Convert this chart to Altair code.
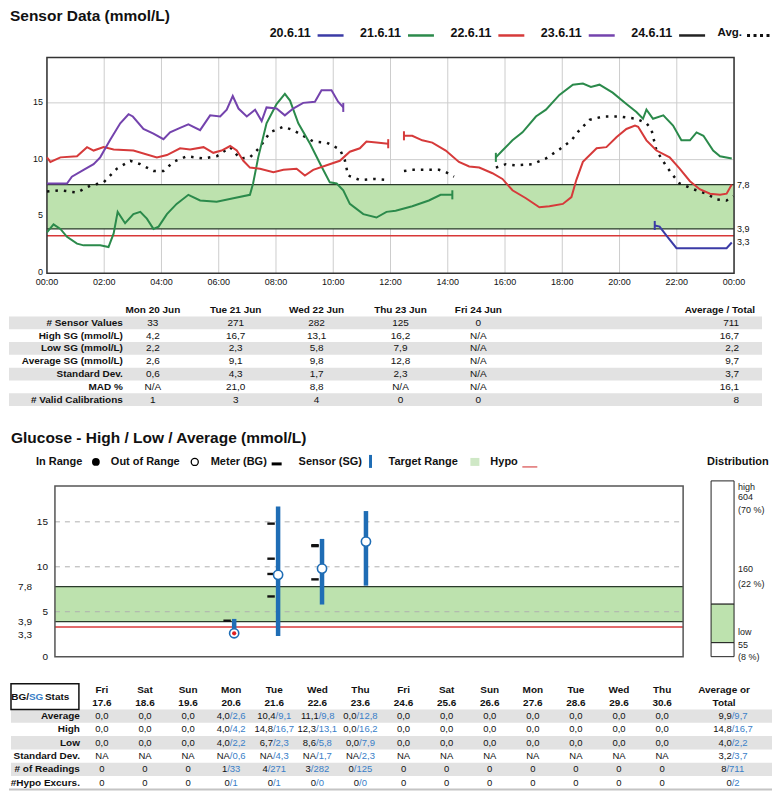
import altair as alt
import pandas as pd

SANS = "Liberation Sans, Arial, sans-serif"
W = 765

GREEN = "#bde2ae"
GRAY_BAND = "#e2e2e2"
BAR_BLUE = "#1f6db5"
SG_BLUE = "#3a80c8"
HYPO_RED = "#d83838"

# ---------------- data: sensor traces (hour of day, mmol/L) ----------------
series_names = ["20.6.11", "21.6.11", "22.6.11", "23.6.11", "24.6.11"]
series_colors = ["#3b3ba6", "#2b8a4b", "#d63a3a", "#7443ad", "#222222"]

mon_t = [21.23, 21.4, 21.64, 21.99, 23.74, 23.92]
mon_v = [4.2, 4.1, 3.3, 2.2, 2.2, 2.7]

tue1_t = [0.0, 0.23, 0.47, 0.7, 1.05, 1.28, 1.86, 2.15, 2.33, 2.47, 2.73, 3.02, 3.26, 3.49, 3.72,
          3.9, 4.19, 4.53, 4.94, 5.35, 5.93, 6.51, 7.09, 7.2, 7.38, 7.67, 8.02, 8.31, 8.49, 8.78,
          9.19, 9.59, 9.88, 10.12, 10.35, 10.58, 11.05, 11.51, 11.86, 12.18, 12.76, 13.34, 13.75, 14.16]
tue1_v = [3.6, 4.3, 3.9, 3.2, 2.6, 2.45, 2.45, 2.3, 3.5, 5.4, 4.4, 5.2, 5.4, 4.8, 3.9,
          4.1, 5.2, 6.1, 6.9, 6.4, 6.3, 6.6, 6.9, 7.9, 10.2, 13.2, 14.9, 15.8, 15.2, 13.2,
          11.4, 9.4, 8.0, 7.9, 7.3, 6.1, 5.2, 4.9, 5.4, 5.5, 5.9, 6.4, 6.9, 6.9]
tue2_t = [15.68, 15.91, 16.26, 16.61, 17.08, 17.43, 17.9, 18.37, 18.72, 19.0, 19.3, 19.76, 20.24,
          20.59, 20.82, 20.94, 21.17, 21.53, 21.87, 22.16, 22.46, 22.69, 22.93, 23.27, 23.51, 23.92]
tue2_v = [10.2, 10.8, 11.7, 12.4, 13.8, 14.4, 15.7, 16.6, 16.7, 16.4, 16.6, 15.9, 14.9,
          14.2, 13.6, 14.4, 13.6, 13.9, 13.0, 11.7, 11.7, 12.4, 12.1, 10.8, 10.3, 10.1]

wed1_t = [0.0, 0.12, 0.47, 1.05, 1.4, 1.63, 1.98, 2.33, 3.02, 3.84, 4.19, 4.65, 5.0, 5.47, 5.81,
          6.1, 6.4, 6.63, 6.86, 7.09, 7.44, 7.91, 8.26, 8.72, 9.01, 9.3, 9.77, 10.23, 10.58, 10.93,
          11.16, 11.51, 11.92]
wed1_v = [10.2, 9.8, 10.2, 10.3, 11.1, 10.8, 11.1, 10.9, 10.8, 10.2, 10.4, 11.0, 10.9, 11.1, 10.6,
          10.8, 11.2, 10.8, 9.9, 9.3, 9.2, 8.9, 9.1, 9.2, 8.6, 9.1, 9.5, 9.9, 10.7, 11.0,
          11.6, 11.5, 11.4]
wed2_t = [12.47, 12.76, 13.11, 13.46, 13.93, 14.39, 14.75, 15.1, 15.56, 15.91, 16.26, 16.73, 17.2,
          17.55, 18.02, 18.32, 18.49, 18.72, 19.2, 19.54, 19.9, 20.24, 20.54, 20.65, 20.94, 21.29,
          21.75, 22.1, 22.46, 22.8, 23.16, 23.51, 23.74, 23.92]
wed2_v = [12.1, 12.1, 11.7, 11.5, 10.8, 9.8, 9.4, 9.3, 8.8, 8.3, 7.3, 6.6, 5.8,
          5.9, 6.1, 6.7, 8.2, 9.8, 11.0, 11.1, 12.0, 12.7, 13.0, 12.9, 11.7, 10.8,
          10.2, 9.2, 8.1, 7.4, 7.0, 6.9, 7.0, 7.8]

thu_t = [0.0, 0.7, 0.87, 1.28, 1.63, 1.86, 2.2, 2.56, 2.85, 3.0, 3.37, 3.72, 4.07, 4.3, 4.65, 4.94,
         5.35, 5.7, 6.05, 6.28, 6.49, 6.69, 6.98, 7.27, 7.5, 7.67, 8.02, 8.31, 8.6, 8.95, 9.36,
         9.59, 9.94, 10.17, 10.35]
thu_v = [7.9, 7.9, 8.5, 9.1, 9.6, 10.2, 11.7, 13.2, 14.0, 13.8, 12.7, 12.3, 11.8, 12.4, 12.8, 13.1,
         12.6, 13.9, 13.8, 14.4, 15.6, 14.5, 13.8, 14.4, 13.4, 14.6, 14.5, 13.9, 14.5, 15.0, 15.1,
         16.1, 16.1, 15.1, 14.6]

avg1_t = [0.0, 0.47, 1.05, 1.51, 1.98, 2.44, 2.91, 3.26, 3.72, 4.07, 4.42, 4.88, 5.47, 5.93, 6.4,
          6.74, 7.09, 7.44, 7.79, 8.26, 8.6, 8.95, 9.3, 9.77, 10.23, 10.4, 10.52, 10.93, 11.4, 11.92]
avg1_v = [7.2, 7.3, 7.1, 7.7, 8.0, 9.2, 9.9, 9.6, 9.0, 9.0, 9.8, 10.3, 10.1, 10.3, 11.1,
          10.1, 10.2, 11.1, 12.4, 12.9, 12.6, 12.1, 11.6, 11.5, 10.9, 10.0, 8.6, 8.2, 8.3, 8.2]
avg2_t = [12.47, 12.76, 13.34, 13.7, 13.93, 14.22]
avg2_v = [9.0, 9.1, 9.1, 9.1, 8.9, 8.5]
avg3_t = [15.68, 16.03, 16.38, 16.96, 17.43, 17.9, 18.32, 18.6, 18.95, 19.42, 20.0, 20.59, 20.94,
          21.11, 21.29, 21.64, 21.87, 22.1, 22.57, 23.04, 23.39, 23.74, 23.97]
avg3_v = [9.3, 9.6, 9.5, 9.6, 10.1, 10.9, 11.7, 12.6, 13.5, 13.8, 13.8, 13.6, 13.2,
          12.7, 10.8, 9.4, 8.6, 7.9, 7.4, 7.0, 6.5, 6.4, 6.8]

TARGET_LOW, TARGET_HIGH, HYPO = 3.9, 7.8, 3.3
Y_MAX = 19

# ---------------- data: table 1 ----------------
t1_stats = ["# Sensor Values", "High SG (mmol/L)", "Low SG (mmol/L)", "Average SG (mmol/L)",
            "Standard Dev.", "MAD %", "# Valid Calibrations"]
t1_days = ["Mon 20 Jun", "Tue 21 Jun", "Wed 22 Jun", "Thu 23 Jun", "Fri 24 Jun"]
t1_mon = ["33", "4,2", "2,2", "2,6", "0,6", "N/A", "1"]
t1_tue = ["271", "16,7", "2,3", "9,1", "4,3", "21,0", "3"]
t1_wed = ["282", "13,1", "5,8", "9,8", "1,7", "8,8", "4"]
t1_thu = ["125", "16,2", "7,9", "12,8", "2,3", "N/A", "0"]
t1_fri = ["0", "N/A", "N/A", "N/A", "N/A", "N/A", "0"]
t1_avg = ["711", "16,7", "2,2", "9,7", "3,7", "16,1", "8"]

# ---------------- data: glucose chart ----------------
sg_day = [3, 4, 5, 6]            # index of day counted from Fri 17.6
sg_low = [2.2, 2.3, 5.8, 7.9]
sg_high = [4.2, 16.7, 13.1, 16.2]
sg_avg = [2.6, 9.1, 9.8, 12.8]
bg_day = [3, 4, 4, 4, 4, 5, 5, 5]
bg_val = [4.0, 14.8, 10.9, 9.2, 6.7, 12.3, 12.4, 8.6]

dist_names = ["low", "target", "high"]
dist_pct = [8, 22, 70]
dist_count = [55, 160, 604]

# ---------------- data: table 2 ----------------
t2_dayname = ["Fri", "Sat", "Sun", "Mon", "Tue", "Wed", "Thu", "Fri", "Sat", "Sun", "Mon", "Tue", "Wed", "Thu"]
t2_date = ["17.6", "18.6", "19.6", "20.6", "21.6", "22.6", "23.6", "24.6", "25.6", "26.6", "27.6", "28.6", "29.6", "30.6"]
t2_stats = ["Average", "High", "Low", "Standard Dev.", "# of Readings", "#Hypo Excurs."]
avg_bg = ["0,0", "0,0", "0,0", "4,0", "10,4", "11,1", "0,0", "0,0", "0,0", "0,0", "0,0", "0,0", "0,0", "0,0"]
avg_sg = [None, None, None, "2,6", "9,1", "9,8", "12,8", None, None, None, None, None, None, None]
high_bg = ["0,0", "0,0", "0,0", "4,0", "14,8", "12,3", "0,0", "0,0", "0,0", "0,0", "0,0", "0,0", "0,0", "0,0"]
high_sg = [None, None, None, "4,2", "16,7", "13,1", "16,2", None, None, None, None, None, None, None]
low_bg = ["0,0", "0,0", "0,0", "4,0", "6,7", "8,6", "0,0", "0,0", "0,0", "0,0", "0,0", "0,0", "0,0", "0,0"]
low_sg = [None, None, None, "2,2", "2,3", "5,8", "7,9", None, None, None, None, None, None, None]
sd_bg = ["NA", "NA", "NA", "NA", "NA", "NA", "NA", "NA", "NA", "NA", "NA", "NA", "NA", "NA"]
sd_sg = [None, None, None, "0,6", "4,3", "1,7", "2,3", None, None, None, None, None, None, None]
n_bg = ["0", "0", "0", "1", "4", "3", "0", "0", "0", "0", "0", "0", "0", "0"]
n_sg = [None, None, None, "33", "271", "282", "125", None, None, None, None, None, None, None]
hy_bg = ["0", "0", "0", "0", "0", "0", "0", "0", "0", "0", "0", "0", "0", "0"]
hy_sg = [None, None, None, "1", "1", "0", "0", None, None, None, None, None, None, None]
tot_bg = ["9,9", "14,8", "4,0", "3,2", "8", "0"]
tot_sg = ["9,7", "16,7", "2,2", "3,7", "711", "2"]

# =====================================================================
one = pd.DataFrame({"k": [0]})


def vtext(text, x, y, size=11, weight="bold", align="left", color="#111"):
    return alt.Chart(one).mark_text(text=text, font=SANS, fontSize=size, fontWeight=weight,
                                    align=align, baseline="middle", color=color).encode(
        x=alt.value(x), y=alt.value(y))


# ---------------- P0 : title + legend ----------------
leg_r = [302 + 90.5 * i for i in range(len(series_names))]
leg_df = pd.DataFrame({"label": series_names, "col": series_colors, "xr": leg_r,
                       "x0": [r + 7 for r in leg_r], "x1": [r + 33 for r in leg_r]})
p0 = alt.layer(
    vtext("Sensor Data (mmol/L)", 1, 8, size=15.5),
    alt.Chart(leg_df).mark_text(font=SANS, fontSize=12.5, fontWeight="bold", align="right",
                                baseline="middle", color="#111").encode(
        x=alt.X("xr:Q", scale=None), y=alt.value(25), text="label:N"),
    alt.Chart(leg_df).mark_rule(strokeWidth=2.5).encode(
        x=alt.X("x0:Q", scale=None), x2="x1:Q", y=alt.value(27),
        color=alt.Color("col:N", scale=None)),
    vtext("Avg.", 734, 25, size=11.5, align="right"),
    alt.Chart(one).mark_rule(strokeWidth=3, strokeDash=[3, 3.5], color="#111").encode(
        x=alt.value(739), x2=alt.value(763), y=alt.value(27)),
).properties(width=W, height=49)

# ---------------- P1 : sensor chart ----------------
segments = [
    ("20.6.11", "mon", mon_t, mon_v),
    ("21.6.11", "tue1", tue1_t, tue1_v),
    ("21.6.11", "tue2", tue2_t, tue2_v),
    ("22.6.11", "wed1", wed1_t, wed1_v),
    ("22.6.11", "wed2", wed2_t, wed2_v),
    ("23.6.11", "thu", thu_t, thu_v),
]
rows = []
caps = []
for name, seg, ts, vs in segments:
    for i, (t, v) in enumerate(zip(ts, vs)):
        rows.append({"series": name, "seg": seg, "t": t, "v": v, "i": i})
    for t, v in ((ts[0], vs[0]), (ts[-1], vs[-1])):
        if 0 < t < 23.9:
            caps.append({"series": name, "t": t, "v0": v - 0.4, "v1": v + 0.4})
lines_df = pd.DataFrame(rows)
caps_df = pd.DataFrame(caps)
arows = []
for seg, ts, vs in (("a1", avg1_t, avg1_v), ("a2", avg2_t, avg2_v), ("a3", avg3_t, avg3_v)):
    for i, (t, v) in enumerate(zip(ts, vs)):
        arows.append({"seg": seg, "t": t, "v": v, "i": i})
avgline_df = pd.DataFrame(arows)

xs1 = alt.Scale(domain=[0, 24], range=[38, 726], nice=False, zero=False)
ys1 = alt.Scale(domain=[0, Y_MAX], nice=False, zero=False)
col_scale = alt.Scale(domain=series_names, range=series_colors)


def X1(f):
    return alt.X(f, scale=xs1, axis=None, title=None)


def Y1(f):
    return alt.Y(f, scale=ys1, axis=None, title=None)


def XD1(d):
    return alt.XDatum(d, scale=xs1, axis=None)


def YD1(d):
    return alt.YDatum(d, scale=ys1, axis=None)


hours = list(range(0, 25, 2))
xgrid_df = pd.DataFrame({"t": hours, "lab": [f"{h % 24:02d}:00" for h in hours]})
ygrid_df = pd.DataFrame({"v": [5, 10, 15]})
ylab_df = pd.DataFrame({"v": [0, 5, 10, 15], "lab": ["0", "5", "10", "15"]})
tgt_lab_df = pd.DataFrame({"v": [TARGET_HIGH, TARGET_LOW]})
tgt_lab_df["lab"] = [f"{v:.1f}".replace(".", ",") for v in tgt_lab_df["v"]]
hypo_lab_df = pd.DataFrame({"v": [HYPO], "lab": [f"{HYPO:.1f}".replace(".", ",")]})
border_df = pd.DataFrame({"v": [TARGET_LOW, TARGET_HIGH]})
hypo_df = pd.DataFrame({"v": [HYPO]})

p1 = alt.layer(
    alt.Chart(xgrid_df).mark_rule(color="#cdcdcd", strokeWidth=1).encode(
        x=X1("t:Q"), y=YD1(0), y2=alt.Y2Datum(Y_MAX)),
    alt.Chart(ygrid_df).mark_rule(color="#cdcdcd", strokeWidth=1).encode(
        y=Y1("v:Q"), x=XD1(0), x2=alt.X2Datum(24)),
    alt.Chart(one).mark_rect(color=GREEN).encode(
        x=XD1(0), x2=alt.X2Datum(24), y=YD1(TARGET_LOW), y2=alt.Y2Datum(TARGET_HIGH)),
    alt.Chart(border_df).mark_rule(color="#2a3a2a", strokeWidth=1.2).encode(
        y=Y1("v:Q"), x=XD1(0), x2=alt.X2Datum(24)),
    alt.Chart(hypo_df).mark_rule(color=HYPO_RED, strokeWidth=1.5).encode(
        y=Y1("v:Q"), x=XD1(0), x2=alt.X2Datum(24)),
    alt.Chart(one).mark_rect(fill="white", fillOpacity=0, stroke="#333", strokeWidth=1.5).encode(
        x=XD1(0), x2=alt.X2Datum(24), y=YD1(0), y2=alt.Y2Datum(Y_MAX)),
    alt.Chart(avgline_df).mark_line(strokeWidth=2.5, strokeDash=[2.5, 6], color="#111").encode(
        x=X1("t:Q"), y=Y1("v:Q"), detail="seg:N", order="i:Q"),
    alt.Chart(lines_df).mark_line(strokeWidth=2).encode(
        x=X1("t:Q"), y=Y1("v:Q"),
        color=alt.Color("series:N", scale=col_scale, legend=None),
        detail="seg:N", order="i:Q"),
    alt.Chart(caps_df).mark_rule(strokeWidth=2).encode(
        x=X1("t:Q"), y=Y1("v0:Q"), y2="v1:Q",
        color=alt.Color("series:N", scale=col_scale, legend=None)),
    alt.Chart(ylab_df).mark_text(font=SANS, fontSize=9, align="right", baseline="middle",
                                 dx=-4, dy=-1, color="#111").encode(
        x=XD1(0), y=Y1("v:Q"), text="lab:N"),
    alt.Chart(tgt_lab_df).mark_text(font=SANS, fontSize=9, align="left", baseline="middle",
                                    dx=3, color="#111").encode(
        x=XD1(24), y=Y1("v:Q"), text="lab:N"),
    alt.Chart(hypo_lab_df).mark_text(font=SANS, fontSize=9, align="left", baseline="middle",
                                     dx=3, dy=6, color="#111").encode(
        x=XD1(24), y=Y1("v:Q"), text="lab:N"),
    alt.Chart(xgrid_df).mark_text(font=SANS, fontSize=9, align="center", baseline="middle",
                                  dy=9, color="#111").encode(
        x=X1("t:Q"), y=YD1(0), text="lab:N"),
).properties(width=W, height=216)

# ---------------- P2 : table 1 ----------------
row_keys1 = ["hdr"] + t1_stats
ys2 = alt.Scale(type="band", domain=row_keys1, range=[30.6, 133.0], paddingInner=0, paddingOuter=0)
xs2 = alt.Scale(domain=[0, W], range=[0, W], nice=False, zero=False)
T1_LABEL_X = 114
T1_DAY_X = [144, 227, 308, 392, 470]
T1_AVG_X = 731
T1_AVG_HDR_X = 747


def tchart(df, ys, weight="normal", align="center", size=10, color="#111"):
    return alt.Chart(df).mark_text(font=SANS, fontSize=size, fontWeight=weight, align=align,
                                   baseline="middle", color=color).encode(
        x=alt.X("x:Q", scale=xs2, axis=None),
        y=alt.Y("row:N", scale=ys, axis=None),
        text="text:N")


t1_cols = [t1_mon, t1_tue, t1_wed, t1_thu, t1_fri]
t1_val_rows = []
for j, colvals in enumerate(t1_cols):
    for s, val in zip(t1_stats, colvals):
        t1_val_rows.append({"row": s, "x": T1_DAY_X[j], "text": val})
t1_val_df = pd.DataFrame(t1_val_rows)
t1_hdr_df = pd.DataFrame({"row": ["hdr"] * len(t1_days), "x": T1_DAY_X, "text": t1_days})
t1_lab_df = pd.DataFrame({"row": t1_stats, "x": [T1_LABEL_X] * len(t1_stats), "text": t1_stats})
t1_avg_df = pd.DataFrame({"row": t1_stats, "x": [T1_AVG_X] * len(t1_stats), "text": t1_avg})
t1_avgh_df = pd.DataFrame({"row": ["hdr"], "x": [T1_AVG_HDR_X], "text": ["Average / Total"]})
t1_band_df = pd.DataFrame({"row": t1_stats[0::2]})

p2 = alt.layer(
    alt.Chart(t1_band_df).mark_rect(color=GRAY_BAND).encode(
        y=alt.Y("row:N", scale=ys2, axis=None), x=alt.value(0), x2=alt.value(754)),
    tchart(t1_lab_df, ys2, weight="bold", align="right"),
    tchart(t1_hdr_df, ys2, weight="bold"),
    tchart(t1_val_df, ys2),
    tchart(t1_avg_df, ys2, align="right"),
    tchart(t1_avgh_df, ys2, weight="bold", align="right"),
).properties(width=W, height=140)

# ---------------- P3 : glucose chart + distribution ----------------
X3_MIN, X3_MAX = -1.08, 13.22
xs3 = alt.Scale(domain=[X3_MIN, X3_MAX], range=[46, 675], nice=False, zero=False)
ys3 = alt.Scale(domain=[0, Y_MAX], range=[244, 73], nice=False, zero=False)


def X3(f):
    return alt.X(f, scale=xs3, axis=None, title=None)


def Y3(f):
    return alt.Y(f, scale=ys3, axis=None, title=None)


def XD3(d):
    return alt.XDatum(d, scale=xs3, axis=None)


def YD3(d):
    return alt.YDatum(d, scale=ys3, axis=None)


sg_df = pd.DataFrame({"day": sg_day, "lo": sg_low, "hi": sg_high, "avg": sg_avg})
hypo_pts = sg_df[sg_df["avg"] < HYPO]
bg_df = pd.DataFrame({"day": bg_day, "v": bg_val})
bg_df["xp"] = bg_df["day"] - 0.16

legend_items = [
    vtext("Glucose - High / Low / Average  (mmol/L)", 2, 25, size=15.5),
    vtext("In Range", 27, 49),
    alt.Chart(one).mark_point(shape="circle", filled=True, color="#000", size=60, opacity=1).encode(
        x=alt.value(87), y=alt.value(49)),
    vtext("Out of Range", 102, 49),
    alt.Chart(one).mark_point(shape="circle", filled=False, color="#000", size=50, strokeWidth=1.3,
                              opacity=1).encode(x=alt.value(186), y=alt.value(49)),
    vtext("Meter (BG)", 202, 49),
    alt.Chart(one).mark_rule(color="#000", strokeWidth=3).encode(
        x=alt.value(263), x2=alt.value(273), y=alt.value(51)),
    vtext("Sensor (SG)", 290, 49),
    alt.Chart(one).mark_rule(color=BAR_BLUE, strokeWidth=3).encode(
        x=alt.value(362), y=alt.value(42), y2=alt.value(55)),
    vtext("Target Range", 380, 49),
    alt.Chart(one).mark_rect(color="#cfe8c6").encode(
        x=alt.value(462), x2=alt.value(471), y=alt.value(45), y2=alt.value(53)),
    vtext("Hypo", 482, 49),
    alt.Chart(one).mark_rule(color="#e07070", strokeWidth=1.5).encode(
        x=alt.value(514), x2=alt.value(529), y=alt.value(54)),
    vtext("Distribution", 699, 49),
]

main3 = alt.layer(
    alt.Chart(one).mark_rect(color=GREEN).encode(
        x=XD3(X3_MIN), x2=alt.X2Datum(X3_MAX), y=YD3(TARGET_LOW), y2=alt.Y2Datum(TARGET_HIGH)),
    alt.Chart(ygrid_df).mark_rule(color="#b0b0b0", strokeWidth=1, strokeDash=[5, 5]).encode(
        y=Y3("v:Q"), x=XD3(X3_MIN), x2=alt.X2Datum(X3_MAX)),
    alt.Chart(border_df).mark_rule(color="#2a3a2a", strokeWidth=1.2).encode(
        y=Y3("v:Q"), x=XD3(X3_MIN), x2=alt.X2Datum(X3_MAX)),
    alt.Chart(hypo_df).mark_rule(color=HYPO_RED, strokeWidth=1.5).encode(
        y=Y3("v:Q"), x=XD3(X3_MIN), x2=alt.X2Datum(X3_MAX)),
    alt.Chart(one).mark_rect(fill="white", fillOpacity=0, stroke="#555", strokeWidth=1.5).encode(
        x=XD3(X3_MIN), x2=alt.X2Datum(X3_MAX), y=YD3(0), y2=alt.Y2Datum(Y_MAX)),
    alt.Chart(sg_df).mark_rule(color=BAR_BLUE, strokeWidth=4.5).encode(
        x=X3("day:Q"), y=Y3("lo:Q"), y2="hi:Q"),
    alt.Chart(bg_df).mark_point(shape="M-1,-0.32L1,-0.32L1,0.32L-1,0.32Z", filled=True,
                                color="#111", size=56, opacity=1).encode(
        x=X3("xp:Q"), y=Y3("v:Q")),
    alt.Chart(sg_df).mark_point(shape="circle", filled=True, fill="white", stroke=BAR_BLUE,
                                strokeWidth=1.6, size=85, opacity=1).encode(
        x=X3("day:Q"), y=Y3("avg:Q")),
    alt.Chart(hypo_pts).mark_point(shape="circle", filled=True, color="#e02020", size=18,
                                   opacity=1).encode(
        x=X3("day:Q"), y=Y3("avg:Q")),
    alt.Chart(ylab_df).mark_text(font=SANS, fontSize=10, align="right", baseline="middle",
                                 dx=-7, color="#111").encode(
        x=XD3(X3_MIN), y=Y3("v:Q"), text="lab:N"),
    alt.Chart(tgt_lab_df).mark_text(font=SANS, fontSize=10, align="right", baseline="middle",
                                    dx=-23, color="#111").encode(
        x=XD3(X3_MIN), y=Y3("v:Q"), text="lab:N"),
    alt.Chart(hypo_lab_df).mark_text(font=SANS, fontSize=10, align="right", baseline="middle",
                                     dx=-23, dy=8, color="#111").encode(
        x=XD3(X3_MIN), y=Y3("v:Q"), text="lab:N"),
    *legend_items,
)

xsd = alt.Scale(domain=[0, 1], range=[703, 726], nice=False, zero=False)
ysd = alt.Scale(domain=[0, 100], range=[244, 68], nice=False, zero=False)
cum = [0]
for p in dist_pct:
    cum.append(cum[-1] + p)
dist_df = pd.DataFrame({"name": dist_names, "y0": cum[:-1], "y1": cum[1:],
                        "fill": ["white" if n != "target" else GREEN for n in dist_names]})
dist_lab_df = pd.DataFrame({
    "text": ["high", str(dist_count[2]), f"({dist_pct[2]} %)",
             str(dist_count[1]), f"({dist_pct[1]} %)",
             "low", str(dist_count[0]), f"({dist_pct[0]} %)"],
    "pos": [96.5, 91.0, 83.5, 50.0, 41.5, 14.0, 6.8, 0.0],
})
dist3 = alt.layer(
    alt.Chart(dist_df).mark_rect(stroke="#222", strokeWidth=1).encode(
        x=alt.XDatum(0, scale=xsd, axis=None), x2=alt.X2Datum(1),
        y=alt.Y("y0:Q", scale=ysd, axis=None), y2="y1:Q",
        fill=alt.Fill("fill:N", scale=None)),
    alt.Chart(dist_lab_df).mark_text(font=SANS, fontSize=9, align="left", baseline="middle",
                                     dx=4, color="#222").encode(
        x=alt.XDatum(1, scale=xsd, axis=None),
        y=alt.Y("pos:Q", scale=ysd, axis=None), text="text:N"),
)

p3 = alt.layer(main3, dist3).resolve_scale(x="independent", y="independent").properties(
    width=W, height=244)

# ---------------- P4 : table 2 ----------------
row_keys2 = ["day", "date"] + t2_stats
ys4 = alt.Scale(type="band", domain=row_keys2, range=[26.4, 132.7], paddingInner=0, paddingOuter=0)
T2_LABEL_X = 71
T2_COL_X = [93 + 43.15 * i for i in range(len(t2_date))]
T2_TOT_X = 725
T2_TOT_HDR_X = 716
VAL_SIZE = 9.5

# approximate advance widths (em) of Liberation Sans, used to centre two-colour cells
EM = {",": 0.278, "/": 0.278, ".": 0.278, "N": 0.722, "A": 0.667}


def tw(s):
    return sum(EM.get(c, 0.556) for c in s) * VAL_SIZE


bg_rows = [avg_bg, high_bg, low_bg, sd_bg, n_bg, hy_bg]
sg_rows = [avg_sg, high_sg, low_sg, sd_sg, n_sg, hy_sg]
black_c, black_r, blue_l = [], [], []
for r, stat in enumerate(t2_stats):
    cells = [(T2_COL_X[j], bg_rows[r][j], sg_rows[r][j]) for j in range(len(t2_date))]
    cells.append((T2_TOT_X, tot_bg[r], tot_sg[r]))
    for cx, bg, sg in cells:
        if sg is None:
            black_c.append({"row": stat, "x": cx, "text": bg})
        else:
            full = bg + "/" + sg
            anchor = cx - tw(full) / 2 + tw(bg)
            black_r.append({"row": stat, "x": anchor, "text": bg})
            blue_l.append({"row": stat, "x": anchor, "text": "/" + sg})

t2_hdr_df = pd.DataFrame({
    "row": ["day"] * len(t2_dayname) + ["date"] * len(t2_date) + ["day", "date"],
    "x": T2_COL_X + T2_COL_X + [T2_TOT_HDR_X, T2_TOT_HDR_X],
    "text": t2_dayname + t2_date + ["Average or", "Total"],
})
t2_lab_df = pd.DataFrame({"row": t2_stats, "x": [T2_LABEL_X] * len(t2_stats), "text": t2_stats})
t2_band_df = pd.DataFrame({"row": t2_stats[0::2]})

p4 = alt.layer(
    alt.Chart(t2_band_df).mark_rect(color=GRAY_BAND).encode(
        y=alt.Y("row:N", scale=ys4, axis=None), x=alt.value(2), x2=alt.value(764)),
    alt.Chart(one).mark_rect(fill="white", fillOpacity=0, stroke="#111", strokeWidth=1.5).encode(
        x=alt.value(2), x2=alt.value(70), y=alt.value(27), y2=alt.value(53)),
    vtext("BG/", 20, 40, size=10, align="right"),
    vtext("SG", 20, 40, size=10, color=SG_BLUE),
    vtext("Stats", 36, 40, size=10),
    tchart(t2_hdr_df, ys4, weight="bold"),
    tchart(t2_lab_df, ys4, weight="bold", align="right"),
    tchart(pd.DataFrame(black_c), ys4, size=VAL_SIZE),
    tchart(pd.DataFrame(black_r), ys4, align="right", size=VAL_SIZE),
    tchart(pd.DataFrame(blue_l), ys4, align="left", size=VAL_SIZE, color=SG_BLUE),
    alt.Chart(one).mark_rule(color="#c4c4c4", strokeWidth=2).encode(
        x=alt.value(0), x2=alt.value(764), y=alt.value(133)),
).properties(width=W, height=135)

chart = alt.vconcat(
    p0, p1, p2, p3, p4, spacing=0, bounds="flush", padding=0, background="white"
).configure_view(stroke=None)

chart.save("out.html", embed_options={"renderer": "svg", "actions": False})
